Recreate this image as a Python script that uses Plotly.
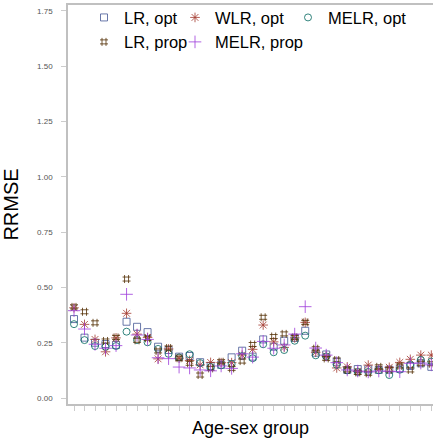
import plotly.graph_objects as go

groups = list(range(35))

lr_opt = [0.357, 0.273, 0.250, 0.244, 0.240, 0.345, 0.322, 0.298, 0.232, 0.217,
          0.187, 0.190, 0.162, 0.145, 0.150, 0.184, 0.214, 0.187, 0.265, 0.232,
          0.259, 0.272, 0.304, 0.205, 0.197, 0.164, 0.127, 0.131, 0.130, 0.127,
          0.128, 0.133, 0.145, 0.157, 0.141]
wlr_opt = [0.408, 0.333, 0.265, 0.209, 0.272, 0.383, 0.289, 0.274, 0.177, 0.222,
           0.180, 0.170, 0.150, 0.161, 0.160, 0.160, 0.194, 0.220, 0.330, 0.254,
           0.229, 0.272, 0.342, 0.207, 0.190, 0.136, 0.141, 0.120, 0.149, 0.130,
           0.139, 0.161, 0.175, 0.194, 0.194]
melr_opt = [0.334, 0.262, 0.235, 0.232, 0.235, 0.300, 0.262, 0.252, 0.222, 0.200,
            0.183, 0.198, 0.158, 0.140, 0.148, 0.154, 0.190, 0.180, 0.243, 0.207,
            0.217, 0.259, 0.282, 0.193, 0.188, 0.150, 0.125, 0.118, 0.118, 0.126,
            0.104, 0.128, 0.150, 0.172, 0.165]
lr_prop = [0.412, 0.390, 0.340, 0.258, 0.274, 0.538, 0.261, 0.270, 0.213, 0.226,
           0.180, 0.157, 0.104, 0.134, 0.164, 0.134, 0.167, 0.242, 0.365, 0.278,
           0.290, 0.274, 0.342, 0.223, 0.179, 0.172, 0.127, 0.116, 0.112, 0.141,
           0.128, 0.145, 0.127, 0.157, 0.155]
melr_prop = [0.395, 0.312, 0.243, 0.225, 0.237, 0.469, 0.285, 0.265, 0.182, 0.178,
             0.140, 0.136, 0.127, 0.123, 0.145, 0.134, 0.200, 0.185, 0.256, 0.225,
             0.240, 0.289, 0.413, 0.226, 0.194, 0.160, 0.127, 0.122, 0.118, 0.122,
             0.121, 0.119, 0.157, 0.158, 0.150]

yticks = [0, 0.25, 0.5, 0.75, 1.0, 1.25, 1.5, 1.75]

FONT = "Liberation Sans, Arial, sans-serif"

series = [
    ("LR, opt", lr_opt, "square-open", "#445694", 7, "legend"),
    ("WLR, opt", wlr_opt, "asterisk-open", "#A23A2E", 8, "legend2"),
    ("MELR, opt", melr_opt, "circle-open", "#01665E", 7, "legend3"),
    ("LR, prop", lr_prop, "hash-open", "#543005", 8, "legend"),
    ("MELR, prop", melr_prop, "cross-thin-open", "#9D3CDB", 9, "legend2"),
]

fig = go.Figure()
for name, vals, sym, col, size, leg in series:
    fig.add_trace(go.Scatter(
        x=groups, y=vals, mode="markers", name=name, legend=leg,
        marker=dict(symbol=sym, size=size, color=col, opacity=0.8,
                    line=dict(width=1, color=col)),
    ))

legfont = dict(family=FONT, size=16.5, color="#000000")
common = dict(orientation="v", yanchor="top", xanchor="left", y=1.012,
              bgcolor="rgba(0,0,0,0)", font=legfont, tracegroupgap=0)

PW = 433 - 68  # plot width in px

fig.update_layout(
    width=433, height=441,
    margin=dict(l=68, r=0, t=5, b=37, autoexpand=False),
    paper_bgcolor="white", plot_bgcolor="white",
    font=dict(family=FONT),
    legend=dict(x=(84 - 68) / PW, **common),
    legend2=dict(x=(175 - 68) / PW, **common),
    legend3=dict(x=(288 - 68) / PW, **common),
    xaxis=dict(
        range=[-0.571, 34.16], tickmode="array", tickvals=groups,
        showticklabels=False, ticks="outside", ticklen=5, tickcolor="#cccccc",
        showline=True, linecolor="#c0c0c0", linewidth=1.5, mirror=True,
        showgrid=False, zeroline=False,
        title=dict(text="Age-sex group", font=dict(family=FONT, size=18, color="#000"),
                   standoff=12),
    ),
    yaxis=dict(
        range=[-0.027, 1.777], tickmode="array", tickvals=yticks,
        tickformat=".2f", ticks="outside", ticklen=5, tickcolor="#cccccc",
        tickfont=dict(family=FONT, size=8, color="#555555"),
        ticklabelstandoff=7,
        showline=True, linecolor="#c0c0c0", linewidth=1.5,
        showgrid=False, zeroline=False,
        title=dict(text="RRMSE", font=dict(family=FONT, size=20, color="#000"),
                   standoff=14),
    ),
)

fig.write_html("out.html")
